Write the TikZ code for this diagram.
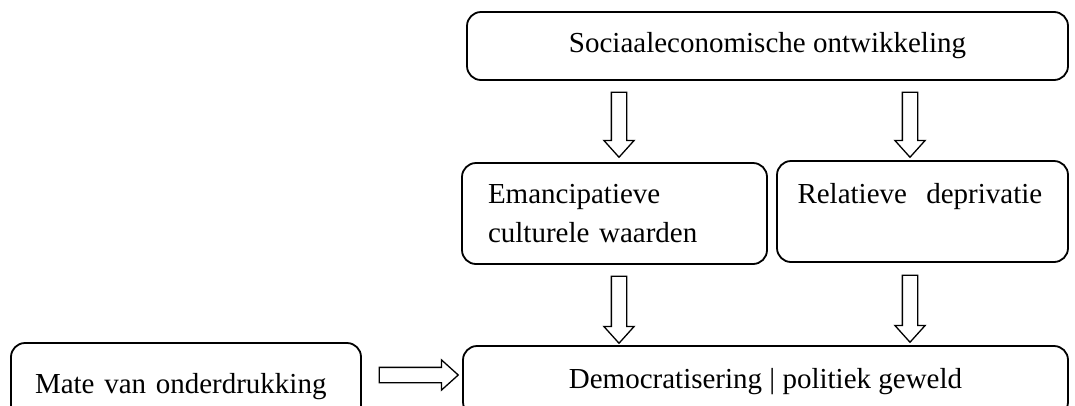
\documentclass[tikz,border=0pt]{standalone}
\usepackage{fontspec}
\setmainfont{Liberation Serif}
\usetikzlibrary{shapes.arrows}

\tikzset{
	kader/.style={draw, line width=1.8pt, rounded corners=14pt, inner sep=0pt,
		text height=20pt, font=\fontsize{29}{39}\selectfont},
	pijl/.style={single arrow, draw, line width=1.3pt, fill=white,
		inner xsep=0pt, inner ysep=7pt, minimum width=29pt,
		single arrow head extend=7.5pt, single arrow tip angle=84}
}

\begin{document}
\begin{tikzpicture}[x=1pt, y=-1pt]
	\useasboundingbox (0,0) rectangle (1075,405);
	\clip (0,0) rectangle (1075,405);
	% Kaders
	\node[kader, minimum width=601pt, minimum height=68pt, text depth=8pt]
		(soc) at (767.5,46) {Sociaaleconomische ontwikkeling};
	\node[kader, minimum width=305pt, minimum height=101pt, text depth=41pt,
		text width=253pt, align=left] (emc) at (614.5,213.5)
		{Emancipatieve\\culturele waarden};
	\node[kader, minimum width=291pt, minimum height=101pt, text depth=37pt,
		text width=250pt, align=left] (rel) at (922.5,211.5)
		{Relatieve\ \ deprivatie};
	\node[kader, minimum width=350pt, minimum height=86pt, text depth=6pt,
		text width=302pt, align=left] (mate) at (186,386)
		{Mate van onderdrukking};
	\node[kader, minimum width=605pt, minimum height=70pt, text depth=6pt]
		(dem) at (765.5,381) {Democratisering | politiek geweld};
	% Pijlen
	\node[pijl, minimum height=65pt, rotate=-90] (p1) at (619,120.5) {};
	\node[pijl, minimum height=65pt, rotate=-90] (p2) at (910,120.5) {};
	\node[pijl, minimum height=67pt, rotate=-90] (p3) at (619,305.5) {};
	\node[pijl, minimum height=67pt, rotate=-90] (p4) at (910,304.5) {};
	\node[pijl, minimum height=79pt] (p5) at (414.5,375) {};
\end{tikzpicture}
\end{document}
